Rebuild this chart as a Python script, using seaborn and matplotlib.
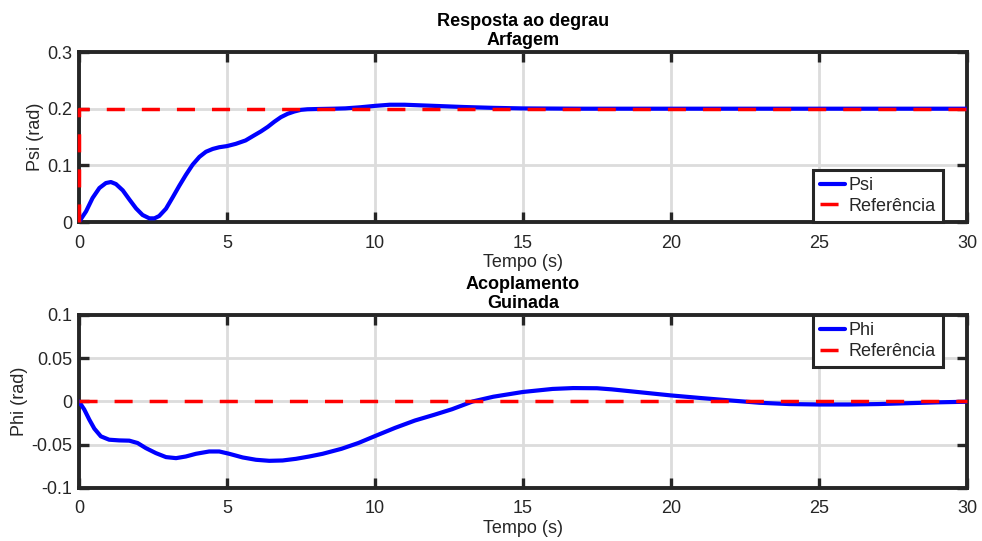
import matplotlib
matplotlib.use("Agg")
import matplotlib.pyplot as plt
import seaborn as sns

# --- Pitch (Arfagem) step response ---
t_psi = [0, 0.24, 0.46, 0.69, 0.91, 1.08, 1.25, 1.48, 1.7, 1.93, 2.15, 2.38, 2.55, 2.71,
         2.94, 3.16, 3.39, 3.61, 3.84, 4.07, 4.29, 4.52, 4.74, 5.0, 5.3, 5.63, 5.92, 6.15,
         6.38, 6.6, 6.82, 7.05, 7.27, 7.5, 7.72, 8.1, 8.6, 9.0, 9.5, 10.0, 10.5, 11.0, 12.0,
         13.0, 14.0, 15.0, 17.0, 20.0, 25.0, 30.0]
psi = [0.0, 0.0188, 0.0424, 0.060, 0.0688, 0.0706, 0.067, 0.0559, 0.040, 0.024, 0.0124,
       0.0065, 0.0065, 0.0106, 0.0235, 0.043, 0.064, 0.083, 0.1012, 0.115, 0.124, 0.129,
       0.132, 0.134, 0.138, 0.144, 0.153, 0.160, 0.168, 0.177, 0.185, 0.191, 0.195, 0.198,
       0.199, 0.1995, 0.200, 0.2006, 0.2025, 0.205, 0.207, 0.207, 0.205, 0.203, 0.2015,
       0.2005, 0.200, 0.200, 0.200, 0.200]
t_ref_psi = [0, 0, 30]
ref_psi = [0.0, 0.2, 0.2]

# --- Yaw (Guinada) coupling response ---
t_phi = [0, 0.18, 0.35, 0.52, 0.74, 1.02, 1.36, 1.7, 1.98, 2.26, 2.6, 2.94, 3.28, 3.61,
         3.95, 4.4, 4.74, 5.08, 5.53, 5.98, 6.43, 6.88, 7.33, 7.78, 8.23, 8.87, 9.44, 10.0,
         10.68, 11.35, 12.0, 12.6, 13.3, 14.0, 15.0, 16.0, 16.7, 17.5, 18.0, 19.0, 20.0,
         21.0, 22.0, 23.0, 24.0, 25.0, 26.0, 27.0, 28.0, 29.0, 30.0]
phi = [0.0, -0.0093, -0.021, -0.0314, -0.0403, -0.0442, -0.045, -0.0453, -0.048, -0.0539,
       -0.0597, -0.0643, -0.0655, -0.0636, -0.0605, -0.0578, -0.0578, -0.0605, -0.0647,
       -0.0674, -0.0686, -0.0682, -0.0663, -0.0636, -0.0605, -0.0547, -0.048, -0.040,
       -0.0305, -0.022, -0.0154, -0.009, 0.0, 0.0055, 0.011, 0.0145, 0.0155, 0.0153, 0.014,
       0.0105, 0.007, 0.004, 0.0012, -0.0015, -0.003, -0.0035, -0.0035, -0.003, -0.002,
       -0.001, -0.0003]
t_ref_phi = [0, 30]
ref_phi = [0.0, 0.0]

x_ticks = [0, 5, 10, 15, 20, 25, 30]
x_ticklabels = ["0", "5", "10", "15", "20", "25", "30"]
psi_ticks = [0, 0.1, 0.2, 0.3]
psi_ticklabels = ["0", "0.1", "0.2", "0.3"]
phi_ticks = [-0.1, -0.05, 0, 0.05, 0.1]
phi_ticklabels = ["-0.1", "-0.05", "0", "0.05", "0.1"]

sns.set_theme(style="white")
plt.rcParams['font.family'] = ['Liberation Sans', 'DejaVu Sans']
plt.rcParams['axes.unicode_minus'] = False

DARK = '#262626'
FS = 13
REF_DASH = (0, (5.2, 4.9))

fig = plt.figure(figsize=(9.82, 5.41), dpi=100)
ax1 = fig.add_axes([0.0804, 0.5896, 0.9043, 0.3142])
ax2 = fig.add_axes([0.0804, 0.0980, 0.9043, 0.3198])


def style_axes(ax, yticks, ylabels, ylim, ylabel, title):
    ax.set_xlim(0, 30)
    ax.set_ylim(*ylim)
    ax.set_xticks(x_ticks)
    ax.set_xticklabels(x_ticklabels)
    ax.set_yticks(yticks)
    ax.set_yticklabels(ylabels)
    ax.grid(True, color='#dcdcdc', linewidth=2.0)
    ax.set_axisbelow(True)
    for sp in ax.spines.values():
        sp.set_visible(True)
        sp.set_color(DARK)
        sp.set_linewidth(2.8)
    ax.tick_params(axis='both', which='major', direction='in', length=7, width=2.4,
                   color=DARK, labelcolor=DARK, labelsize=FS, top=True, right=True,
                   bottom=True, left=True)
    ax.tick_params(axis='x', pad=9)
    ax.tick_params(axis='y', pad=5)
    ax.set_xlabel("Tempo (s)", fontsize=FS, color=DARK, labelpad=2)
    ax.set_ylabel(ylabel, fontsize=FS, color=DARK, labelpad=2)
    ax.set_title(title, fontsize=FS, fontweight='bold', color='black', pad=5,
                 linespacing=1.15)


def draw_panel(ax, t, y, name, t_ref, y_ref):
    sns.lineplot(x=t, y=y, ax=ax, color='blue', lw=3.0, label=name,
                 estimator=None, sort=False)
    sns.lineplot(x=t_ref, y=y_ref, ax=ax, color='red', lw=2.5, label='Referência',
                 estimator=None, sort=False)
    ref_line = ax.lines[-1]
    ref_line.set_linestyle(REF_DASH)
    ref_line.set_clip_on(False)
    ref_line.set_zorder(4)
    ax.lines[-2].set_zorder(3)


def add_legend(ax, loc, anchor):
    leg = ax.legend(loc=loc, bbox_to_anchor=anchor, borderaxespad=0,
                    fontsize=FS, frameon=True, fancybox=False, framealpha=1,
                    edgecolor=DARK, handlelength=1.4, handletextpad=0.2,
                    borderpad=0.4, labelspacing=0.22)
    leg.get_frame().set_linewidth(2.2)
    leg.set_zorder(6)


# Pitch panel
draw_panel(ax1, t_psi, psi, 'Psi', t_ref_psi, ref_psi)
style_axes(ax1, psi_ticks, psi_ticklabels, (0, 0.3), "Psi (rad)",
           "Resposta ao degrau\nArfagem")
add_legend(ax1, 'lower right', (0.973, 0.0))

# Yaw panel
draw_panel(ax2, t_phi, phi, 'Phi', t_ref_phi, ref_phi)
style_axes(ax2, phi_ticks, phi_ticklabels, (-0.1, 0.1), "Phi (rad)",
           "Acoplamento\nGuinada")
add_legend(ax2, 'upper right', (0.973, 1.0))

fig.savefig("out.png", dpi=100, facecolor='white')
